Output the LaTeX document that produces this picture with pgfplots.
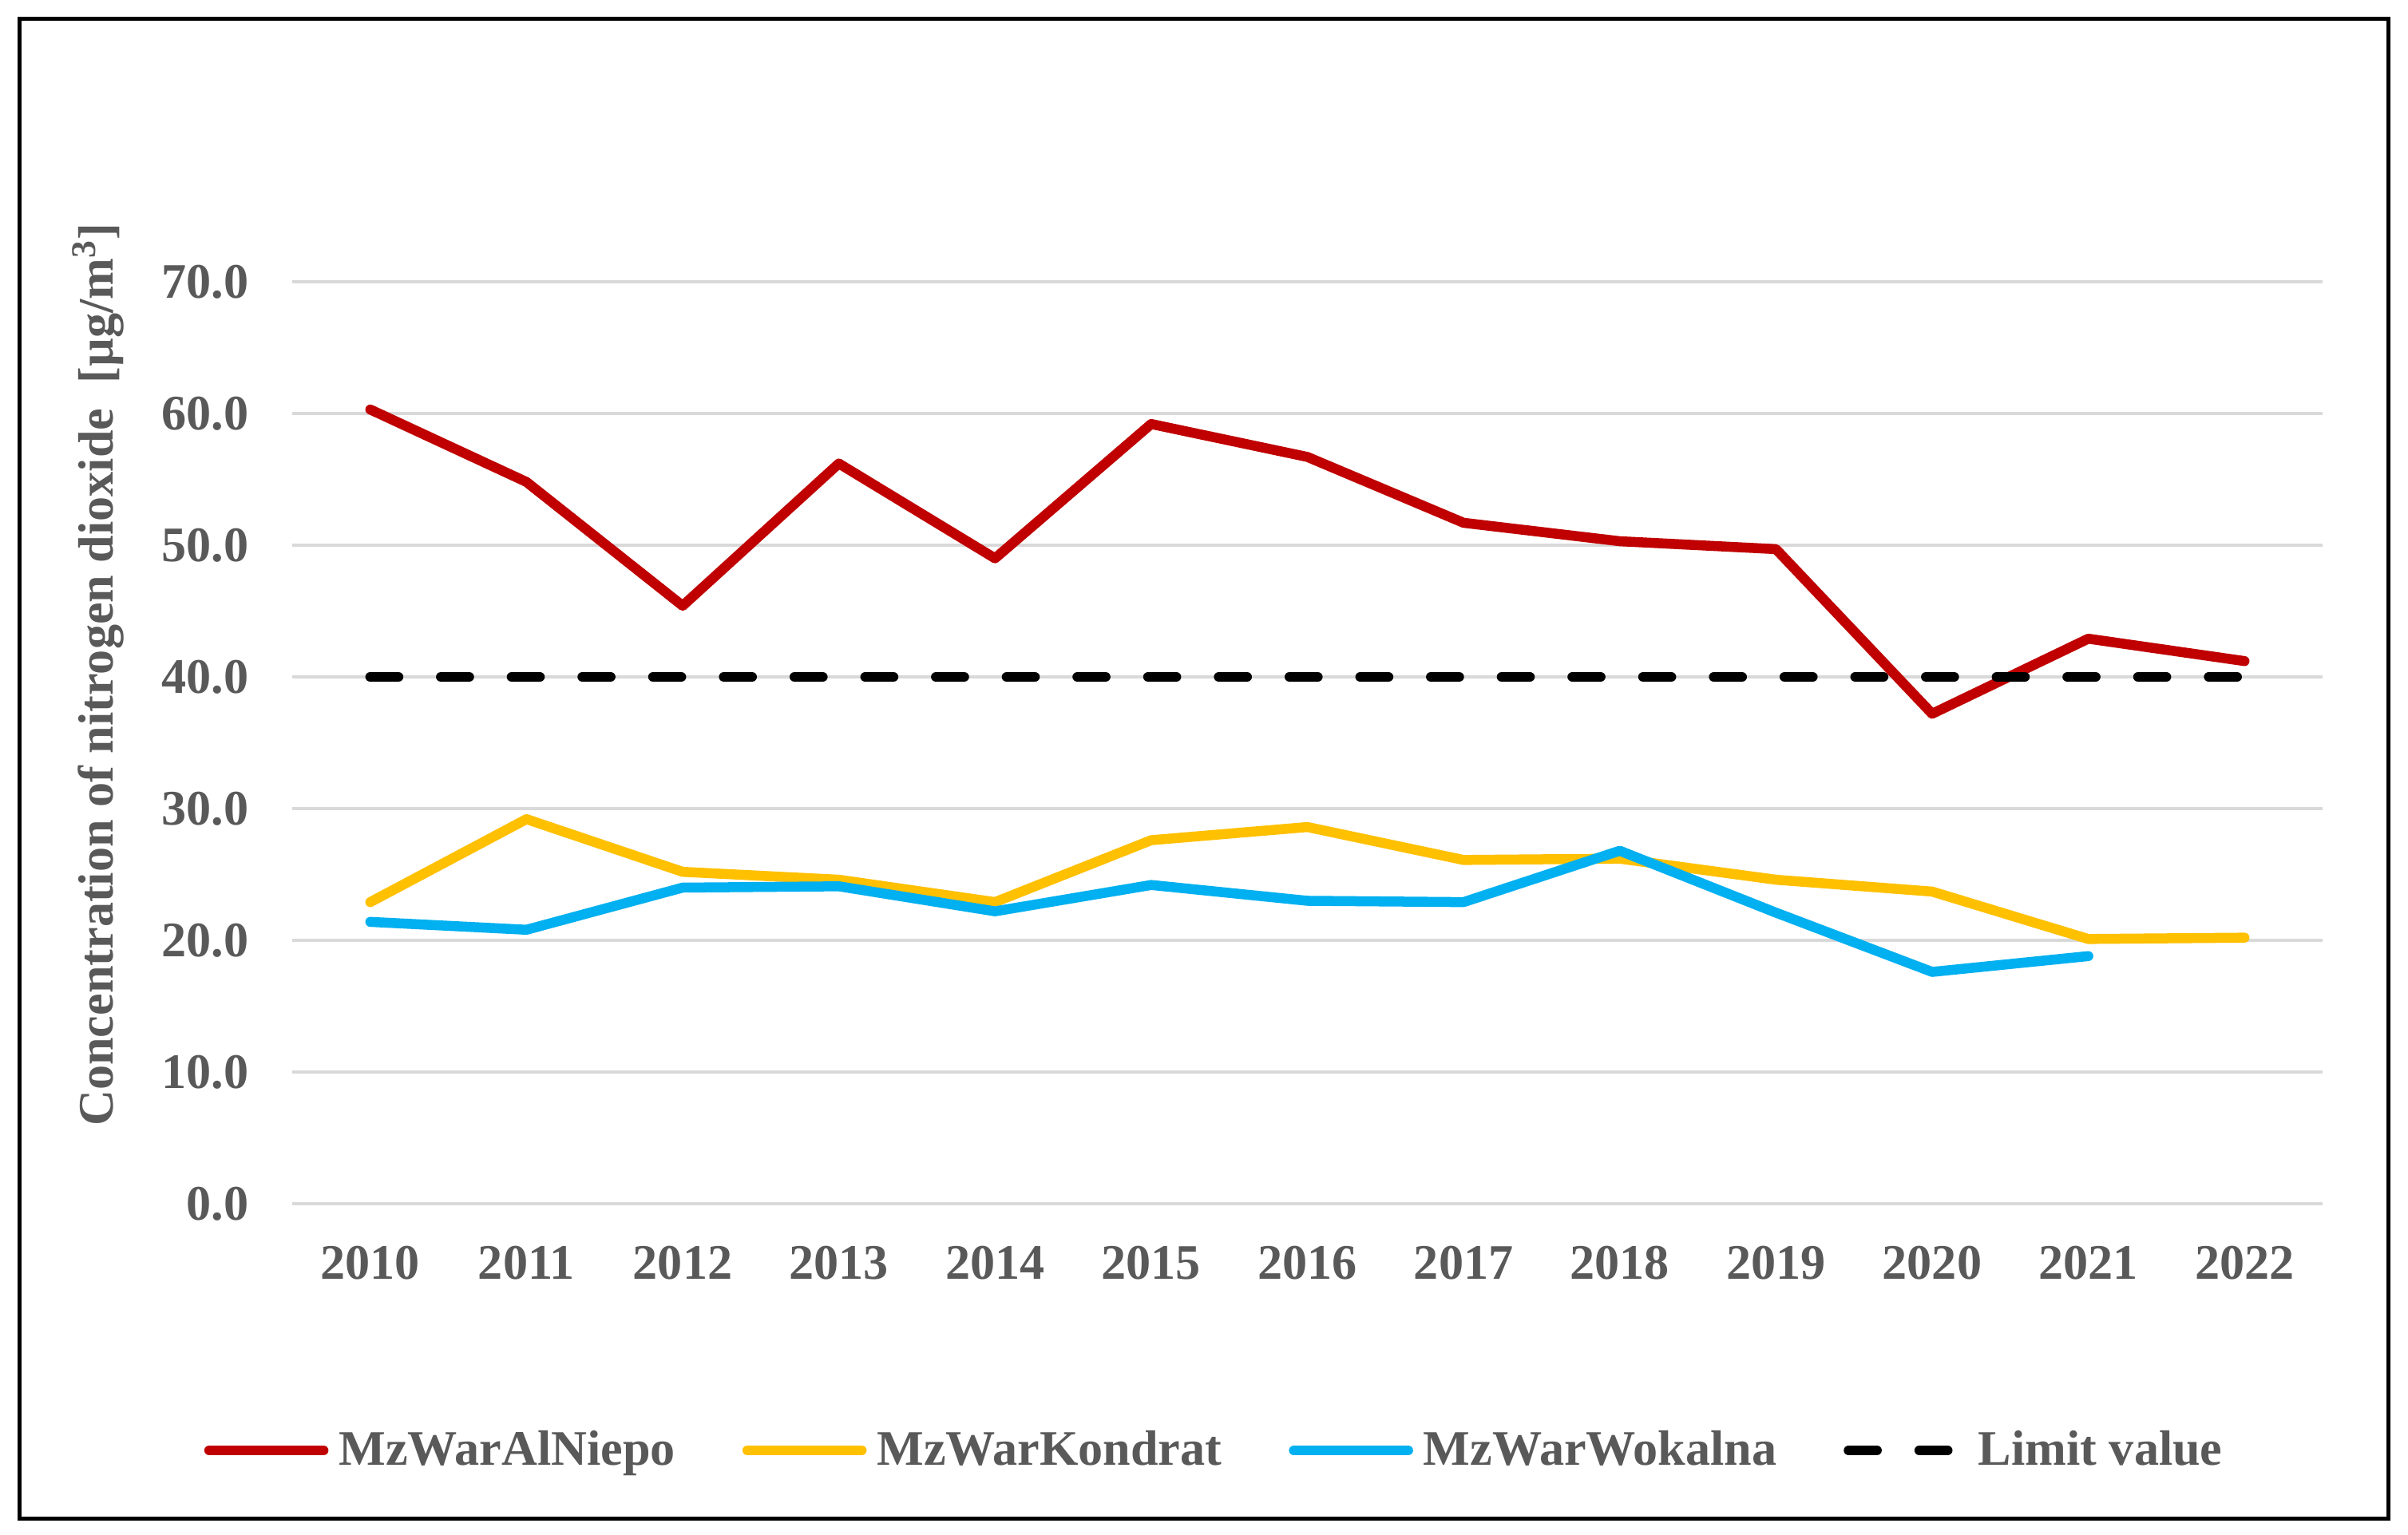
\documentclass[border=0pt]{standalone}
\usepackage{pgfplots}
\pgfplotsset{compat=1.18}
\usepackage{fontspec}
\setmainfont{Liberation Serif}
\definecolor{tgray}{HTML}{595959}
\definecolor{ggray}{HTML}{D9D9D9}
\definecolor{cred}{HTML}{C00000}
\definecolor{cyel}{HTML}{FFC000}
\definecolor{cblue}{HTML}{00B0F0}
\newcommand\myfont{\fontsize{17.7pt}{21pt}\selectfont\bfseries}
\begin{document}
\begin{tikzpicture}
\useasboundingbox (0,0) rectangle (30.16,19.23);
\draw[line width=0.05cm] (0.245,0.2) rectangle (29.91,18.995);
\begin{axis}[
  at={(3.66cm,4.15cm)}, anchor=south west,
  scale only axis, width=25.43cm, height=11.55cm,
  xmin=-0.5, xmax=12.5, ymin=0, ymax=70,
  axis line style={draw=none},
  xtick={0,1,2,3,4,5,6,7,8,9,10,11,12},
  xticklabels={2010,2011,2012,2013,2014,2015,2016,2017,2018,2019,2020,2021,2022},
  ytick={0,10,20,30,40,50,60,70},
  major tick length=0pt,
  ymajorgrids, grid style={ggray, line width=1.4pt},
  /pgf/number format/assume math mode=true,
  yticklabel style={/pgf/number format/fixed, /pgf/number format/fixed zerofill, /pgf/number format/precision=1},
  tick label style={font=\myfont, text=tgray},
  yticklabel style={anchor=east, inner sep=0pt, xshift=-0.54cm},
  xticklabel style={anchor=base, inner sep=0pt, yshift=-0.95cm},
  ylabel={Concentration of nitrogen dioxide\ \ [µg/m\textsuperscript{3}]},
  every axis y label/.style={at={(axis description cs:-0.0956,0.574)}, rotate=90, anchor=center, inner sep=0pt, font=\myfont, text=tgray},
  legend columns=4,
  legend style={at={(axis description cs:-0.0433,-0.2675)}, anchor=west, draw=none, fill=none,
    inner sep=0pt, outer sep=0pt, font=\myfont, text=tgray,
    nodes={inner sep=0pt},
    /tikz/every odd column/.append style={column sep=0.13cm},
    /tikz/every even column/.append style={column sep=0.84cm}},
  legend image code/.code={\draw[#1] (0.06cm,0cm) -- (1.49cm,0cm);},
  every axis plot/.append style={line width=3.56pt, line cap=round, line join=round},
]
\addplot[cred] coordinates {(0,60.3) (1,54.8) (2,45.4) (3,56.2) (4,49.0) (5,59.2) (6,56.7) (7,51.7) (8,50.3) (9,49.7) (10,37.2) (11,42.9) (12,41.2)};
\addlegendentry{MzWarAlNiepo}
\addplot[cyel] coordinates {(0,22.9) (1,29.2) (2,25.2) (3,24.6) (4,22.9) (5,27.6) (6,28.6) (7,26.1) (8,26.2) (9,24.6) (10,23.7) (11,20.1) (12,20.2)};
\addlegendentry{MzWarKondrat}
\addplot[cblue] coordinates {(0,21.4) (1,20.8) (2,24.0) (3,24.1) (4,22.2) (5,24.2) (6,23.0) (7,22.9) (8,26.8) (9,22.1) (10,17.6) (11,18.8)};
\addlegendentry{MzWarWokalna}
\addplot[black, dash pattern=on 10pt off 15.2pt] coordinates {(0,40) (1,40) (2,40) (3,40) (4,40) (5,40) (6,40) (7,40) (8,40) (9,40) (10,40) (11,40) (12,40)};
\addlegendentry{Limit value}
\end{axis}
\end{tikzpicture}
\end{document}
